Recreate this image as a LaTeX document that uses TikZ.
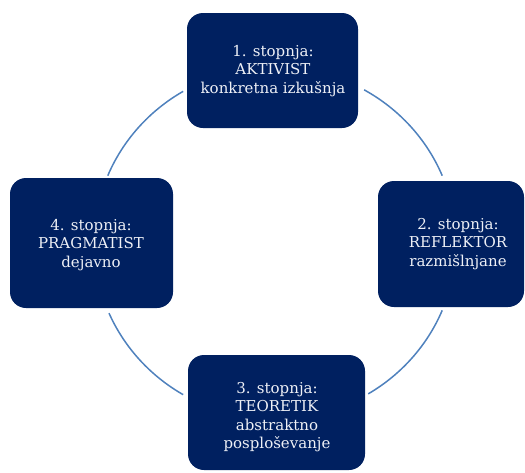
\documentclass[tikz,border=0pt]{standalone}
\usepackage{fontspec}
\setmainfont{DejaVu Serif}
\definecolor{navy}{HTML}{002060}
\definecolor{ringblue}{HTML}{4F81BD}
\definecolor{paletext}{HTML}{EEF0F6}
\begin{document}
\begin{tikzpicture}[x=1pt,y=-1pt,
  stage/.style={fill=navy,draw=none,rounded corners=16pt,inner sep=0pt},
  stagetext/.style={text=paletext,align=center,font=\fontsize{15}{18.5}\selectfont,inner sep=0pt},
  ring/.style={draw=ringblue,line width=1.5pt}]
\useasboundingbox (0,0) rectangle (525,472);

% the four stages
\node[stage,minimum width=171pt,minimum height=115pt] (b1) at (272.5,70.5) {};
\node[stage,minimum width=146pt,minimum height=126pt] (b2) at (451,244) {};
\node[stage,minimum width=177pt,minimum height=115pt] (b3) at (276.5,412.5) {};
\node[stage,minimum width=163pt,minimum height=130pt] (b4) at (91.5,243) {};

\node[stagetext] (t1) at (273,71) {1. stopnja:\\AKTIVIST\\konkretna izkušnja};
\node[stagetext] (t2) at (458,244) {2. stopnja:\\REFLEKTOR\\razmišlnjane};
\node[stagetext] (t3) at (277,417) {3. stopnja:\\TEORETIK\\abstraktno\\posploševanje};
\node[stagetext] (t4) at (91,245) {4. stopnja:\\PRAGMATIST\\dejavno};

% the cycle joining the stages
\coordinate (c) at (275,243);
\draw[ring] (c) ++(60.5:181pt and 176pt)
  arc[start angle=60.5,end angle=22.5,x radius=181pt,y radius=176pt];
\draw[ring] (c) ++(-22.5:181pt and 176pt)
  arc[start angle=-22.5,end angle=-59,x radius=181pt,y radius=176pt];
\draw[ring] (c) ++(-120.5:181pt and 176pt)
  arc[start angle=-120.5,end angle=-156.5,x radius=181pt,y radius=176pt];
\draw[ring] (c) ++(157.5:181pt and 176pt)
  arc[start angle=157.5,end angle=120.5,x radius=181pt,y radius=176pt];
\end{tikzpicture}
\end{document}
